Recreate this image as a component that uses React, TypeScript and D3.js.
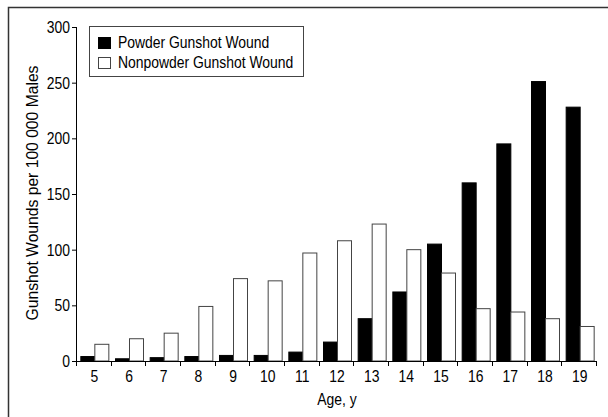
import * as d3 from "d3";
import React, { useRef, useEffect } from "react";

const ages = ["5", "6", "7", "8", "9", "10", "11", "12", "13", "14", "15", "16", "17", "18", "19"];
const powder = [4, 2, 3, 4, 5, 5, 8, 17, 38, 62, 105, 160, 195, 251, 228];
const nonpowder = [15, 20, 25, 49, 74, 72, 97, 108, 123, 100, 79, 47, 44, 38, 31];
const yTicks = [0, 50, 100, 150, 200, 250, 300];
const seriesNames = ["Powder Gunshot Wound", "Nonpowder Gunshot Wound"];

// condensed look: Arial-like face squeezed horizontally
const FONT = "'Liberation Sans', Arial, sans-serif";
const FS = 16;
const SX = 0.87;

function CText({ x, y, anchor, rotate, sx, children }: any) {
  const tr = `translate(${x},${y})${rotate ? ` rotate(${rotate})` : ""} scale(${sx || SX},1)`;
  return (
    <text transform={tr} textAnchor={anchor || "start"} fontFamily={FONT} fontSize={FS} fill="#000">
      {children}
    </text>
  );
}

export default function App() {
  const axesRef = useRef<SVGGElement>(null);

  const width = 608;
  const height = 417;
  const left = 77;
  const right = 597;
  const top = 27;
  const bottom = 361;

  const xScale = d3.scaleBand().domain(ages).range([left, right]).paddingInner(0).paddingOuter(0);
  const yScale = d3.scaleLinear().domain([0, 300]).range([bottom, top]);
  const barW = 14;

  useEffect(() => {
    const g = d3.select(axesRef.current);
    g.selectAll("*").remove();

    const yAxis = d3.axisLeft(yScale).tickValues(yTicks).tickSize(5).tickPadding(2);
    const ya = g.append("g").attr("transform", `translate(${left},0)`).call(yAxis);
    ya.select(".domain").attr("d", `M-0.5,${bottom + 0.5}V${top}`);
    ya.selectAll("line").attr("stroke", "#000");
    ya.selectAll(".tick text")
      .attr("x", null)
      .attr("dy", null)
      .attr("fill", "#000")
      .attr("transform", `translate(-7,5.5) scale(${SX},1)`)
      .style("font-family", FONT)
      .style("font-size", `${FS}px`);

    // x axis: ticks at band boundaries, labels at band centres
    const xa = g.append("g").attr("transform", `translate(0,${bottom})`);
    xa.append("line").attr("x1", left).attr("x2", right).attr("y1", 0.5).attr("y2", 0.5).attr("stroke", "#000");
    const bounds = ages.map((a) => xScale(a) as number).concat([right]);
    xa.selectAll("line.tk")
      .data(bounds)
      .join("line")
      .attr("class", "tk")
      .attr("x1", (d) => Math.round(d) - 0.5)
      .attr("x2", (d) => Math.round(d) - 0.5)
      .attr("y1", 0)
      .attr("y2", 5)
      .attr("stroke", "#000");
    xa.selectAll("text")
      .data(ages)
      .join("text")
      .attr("transform", (d) => `translate(${(xScale(d) as number) + xScale.bandwidth() / 2},21) scale(${SX},1)`)
      .attr("text-anchor", "middle")
      .attr("fill", "#000")
      .style("font-family", FONT)
      .style("font-size", `${FS}px`)
      .text((d) => d);
  }, []);

  return (
    <svg width={width} height={height} style={{ position: "absolute", left: 0, top: 0, background: "#fff" }}>
      <rect x={0} y={0} width={width} height={height} fill="#fff" />
      {/* frame */}
      <path d={`M8.5,${height}V7.5H${width}`} fill="none" stroke="#333" strokeWidth={1.5} />

      {ages.map((a, i) => {
        const cx = (xScale(a) as number) + xScale.bandwidth() / 2 + 0.5;
        return (
          <g key={a}>
            <rect
              x={cx - barW}
              y={yScale(powder[i])}
              width={barW}
              height={bottom - yScale(powder[i])}
              fill="#000"
              stroke="#000"
              strokeWidth={1}
            />
            <rect
              x={cx}
              y={yScale(nonpowder[i])}
              width={barW}
              height={bottom - yScale(nonpowder[i])}
              fill="#fff"
              stroke="#444"
              strokeWidth={1}
            />
          </g>
        );
      })}

      <g ref={axesRef} />

      {/* legend */}
      <rect x={89.5} y={26.5} width={214} height={50} fill="#fff" stroke="#444" />
      <rect x={98.5} y={37.5} width={12} height={11} fill="#000" stroke="#000" />
      <rect x={98.5} y={57.5} width={12} height={11} fill="#fff" stroke="#444" />
      <CText x={118} y={48}>{seriesNames[0]}</CText>
      <CText x={118} y={68}>{seriesNames[1]}</CText>

      <CText x={38} y={193} anchor="middle" rotate={-90} sx={0.98}>
        Gunshot Wounds per 100 000 Males
      </CText>
      <CText x={(left + right) / 2} y={405} anchor="middle">
        Age, y
      </CText>
    </svg>
  );
}
